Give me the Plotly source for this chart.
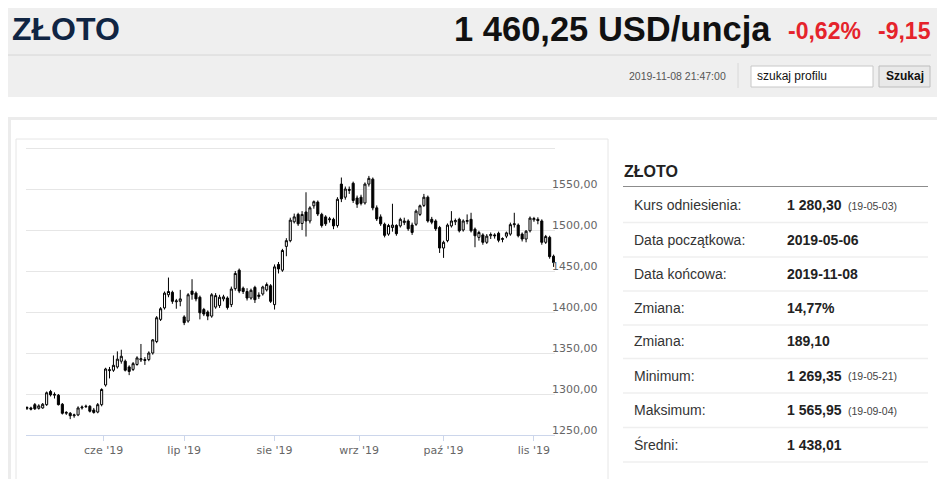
import pandas as pd
import plotly.graph_objects as go

# ---------------- data ----------------
dates = [d.strftime("%Y-%m-%d") for d in pd.bdate_range("2019-05-06", "2019-11-08")]

open_ = [1282.5, 1283, 1287, 1282.5, 1283, 1287, 1303, 1298.5, 1298.5, 1287.5,
         1276.5, 1276.5, 1273.5, 1274.5, 1283, 1284.5, 1285, 1280.5, 1278, 1287,
         1311, 1328.5, 1329, 1333, 1340, 1340, 1333, 1330, 1336, 1341.5,
         1342, 1342, 1350, 1364, 1391, 1405, 1421, 1424, 1412.5, 1413,
         1394, 1389, 1425.5, 1423, 1418, 1403, 1400, 1395, 1406, 1408,
         1416, 1417, 1409, 1428.5, 1451, 1429, 1425, 1417, 1430, 1419,
         1422, 1427, 1432, 1409, 1458, 1451, 1480, 1487, 1510, 1519,
         1508, 1522, 1511, 1529.5, 1534, 1519, 1516, 1512.5, 1513, 1505.5,
         1556, 1540, 1549.5, 1557, 1539, 1540, 1533, 1556, 1562, 1527,
         1516, 1507, 1495, 1503, 1505.5, 1505, 1509, 1511, 1506, 1507,
         1519, 1530, 1540, 1513, 1511, 1503, 1478, 1487, 1505, 1510,
         1513, 1500, 1510.5, 1513, 1501, 1491, 1494, 1485, 1493, 1494,
         1496, 1488.5, 1492.5, 1495, 1506.5, 1506, 1495, 1489, 1499, 1512.5,
         1513, 1511, 1485, 1491, 1468]
high = [1285, 1284.5, 1289, 1287.5, 1289, 1303, 1305, 1302, 1300, 1289,
        1279, 1278, 1276, 1285, 1286, 1287, 1286.5, 1283, 1289, 1307,
        1332, 1333, 1347, 1352, 1354, 1342, 1335, 1339, 1346, 1361,
        1345, 1352, 1367, 1395, 1406, 1425, 1442, 1426, 1416, 1427,
        1396, 1423, 1440, 1425, 1420, 1405, 1402, 1423, 1423, 1421,
        1421, 1419, 1431, 1450, 1453, 1431, 1429, 1428.5, 1432, 1424,
        1432, 1436, 1434, 1458, 1461, 1477, 1490, 1515, 1520, 1521,
        1523, 1546, 1529, 1536, 1536, 1521, 1518, 1516, 1515, 1540,
        1564, 1553, 1553, 1559, 1542, 1543, 1558, 1565.95, 1564, 1530,
        1519, 1509, 1507.5, 1532, 1507, 1515, 1515, 1513, 1509, 1525,
        1531, 1544, 1542, 1516, 1513, 1505, 1487, 1508, 1523, 1514,
        1515, 1513, 1519, 1521, 1503, 1499, 1496, 1495, 1497, 1496,
        1498, 1491, 1498, 1509, 1521, 1508, 1497, 1500, 1516.5, 1516,
        1515.5, 1513, 1494, 1493, 1470]
low = [1280.5, 1280, 1280.5, 1281, 1282, 1285.5, 1297, 1294.5, 1286, 1275,
       1274.5, 1269.35, 1271, 1273, 1281, 1283, 1277.5, 1276, 1276.5, 1285,
       1309, 1319, 1327, 1331, 1337, 1327.5, 1323, 1328, 1334.5, 1339,
       1335.5, 1340, 1348, 1362, 1389, 1403, 1418, 1410, 1404, 1407,
       1384, 1387, 1415, 1413, 1391, 1395, 1390, 1393, 1404, 1405,
       1413, 1403, 1406, 1426, 1423, 1422, 1414, 1415, 1411, 1416,
       1420, 1425, 1411, 1403, 1447, 1449, 1468, 1485, 1508, 1505,
       1500, 1492, 1508, 1526, 1517, 1503, 1505, 1509, 1501, 1503,
       1534, 1537, 1544, 1533, 1527, 1530, 1531, 1553, 1524, 1511,
       1505, 1491, 1493, 1498, 1493, 1503, 1506, 1499, 1494, 1505,
       1517, 1528, 1509, 1507, 1499, 1472, 1466, 1485, 1503, 1506,
       1497, 1498, 1507, 1497, 1479, 1487, 1482, 1483, 1489, 1489.5,
       1485, 1485, 1490, 1493, 1503, 1491, 1486, 1485, 1497, 1510,
       1507, 1482, 1483, 1465, 1455]
close = [1283.5, 1281.5, 1282, 1285.5, 1287.5, 1301.5, 1299, 1299.5, 1287, 1276.5,
         1277.5, 1273.5, 1274.5, 1283, 1284, 1285, 1279, 1277.5, 1287, 1305.5,
         1330.5, 1329.5, 1335, 1342.5, 1346, 1329, 1327.5, 1337, 1344, 1343,
         1341, 1350, 1366, 1393, 1404, 1423, 1425, 1413, 1413.5, 1416,
         1387, 1421, 1421.5, 1416, 1399, 1397.5, 1395, 1421, 1420, 1418,
         1418.5, 1405.5, 1428, 1447, 1425.5, 1425, 1417, 1426.5, 1415, 1420.5,
         1430.5, 1433.5, 1413, 1455, 1452.5, 1475, 1487, 1512, 1516, 1507.5,
         1519, 1511, 1527, 1534.5, 1519.5, 1505.5, 1507.5, 1513.5, 1505, 1537.5,
         1538, 1550, 1548.5, 1536, 1531.5, 1532.5, 1556, 1563, 1527, 1513.5,
         1507.5, 1493.5, 1505.5, 1506, 1495.5, 1513, 1511, 1501.5, 1497, 1523,
         1529.5, 1540, 1511, 1509.5, 1501.5, 1478, 1485, 1506, 1511, 1511.5,
         1499, 1511, 1511.5, 1499, 1493, 1497, 1485, 1492.5, 1494.5, 1493,
         1487.5, 1489.5, 1496.5, 1506.5, 1507.5, 1493, 1489, 1498.5, 1514.5, 1514,
         1511.5, 1485, 1492, 1467.5, 1460.25]

price_ticks = [1250, 1300, 1350, 1400, 1450, 1500, 1550, 1600]
month_starts = ["2019-06-01", "2019-07-01", "2019-08-01", "2019-09-01", "2019-10-01", "2019-11-01"]
month_labels = ["cze '19", "lip '19", "sie '19", "wrz '19", "paź '19", "lis '19"]

header_title = "ZŁOTO"
header_price = "1 460,25 USD/uncja"
header_pct = "-0,62%"
header_chg = "-9,15"
header_time = "2019-11-08 21:47:00"

table_title = "ZŁOTO"
table_labels = ["Kurs odniesienia:", "Data początkowa:", "Data końcowa:", "Zmiana:",
                "Zmiana:", "Minimum:", "Maksimum:", "Średni:"]
table_values = ["1 280,30", "2019-05-06", "2019-11-08", "14,77%",
                "189,10", "1 269,35", "1 565,95", "1 438,01"]
table_notes = ["(19-05-03)", "", "", "", "", "(19-05-21)", "(19-09-04)", ""]

# ---------------- helpers ----------------
# the page body has an 8px margin, so the figure starts at window (8, 8)
OFF = 8
W, H = 937, 471
def px(x):
    return (x - OFF) / W
def py(y):
    return 1 - (y - OFF) / H

# month tick positions on the ordinal (trading day) axis
dt_index = pd.to_datetime(pd.Series(dates))
tickvals = []
for m in month_starts:
    ts = pd.Timestamp(m)
    idx = int((dt_index < ts).sum())
    tickvals.append(idx if dt_index.iloc[idx] == ts else idx - 0.5)

ytext = ["" if v == 1600 else f"{v:.2f}".replace(".", ",") for v in price_ticks]

fig = go.Figure()
fig.add_trace(go.Candlestick(
    x=dates, open=open_, high=high, low=low, close=close,
    increasing=dict(line=dict(color="#000000", width=1), fillcolor="#ffffff"),
    decreasing=dict(line=dict(color="#000000", width=1), fillcolor="#000000"),
    whiskerwidth=0, showlegend=False, hoverinfo="skip",
))

shapes = []
# header band
shapes.append(dict(type="rect", xref="paper", yref="paper", x0=px(8), x1=px(942), y0=py(97), y1=py(8),
                   fillcolor="#efefef", line=dict(width=0), layer="below"))
shapes.append(dict(type="line", xref="paper", yref="paper", x0=px(8), x1=px(931), y0=py(55), y1=py(55),
                   line=dict(color="#d6d6d6", width=1)))
shapes.append(dict(type="line", xref="paper", yref="paper", x0=px(738), x1=px(738), y0=py(63), y1=py(88),
                   line=dict(color="#d8d8d8", width=1)))
shapes.append(dict(type="rect", xref="paper", yref="paper", x0=px(751), x1=px(873), y0=py(87), y1=py(66),
                   fillcolor="#ffffff", line=dict(color="#c8c8c8", width=1)))
shapes.append(dict(type="rect", xref="paper", yref="paper", x0=px(879), x1=px(930), y0=py(87), y1=py(66),
                   fillcolor="#e9e9e9", line=dict(color="#bdbdbd", width=1)))
# content box
shapes.append(dict(type="rect", xref="paper", yref="paper", x0=px(9.5), x1=px(940.5), y0=py(520), y1=py(118.5),
                   fillcolor="rgba(0,0,0,0)", line=dict(color="#ececec", width=3), layer="below"))
# chart panel
shapes.append(dict(type="rect", xref="paper", yref="paper", x0=px(16), x1=px(608), y0=py(520), y1=py(139),
                   fillcolor="rgba(0,0,0,0)", line=dict(color="#e6e6e6", width=1), layer="below"))
# table lines
shapes.append(dict(type="line", xref="paper", yref="paper", x0=px(623), x1=px(928), y0=py(186.5), y1=py(186.5),
                   line=dict(color="#8c8c8c", width=1)))
row_y = [205, 239.5, 273.5, 307.5, 341, 375.5, 410, 444.5]
for ry in row_y:
    sy = ry + 17.5
    shapes.append(dict(type="line", xref="paper", yref="paper", x0=px(623), x1=px(928), y0=py(sy), y1=py(sy),
                       line=dict(color="#efefef", width=1.5)))

ann = []
def text(x, y, s, size, color, bold=False, xanchor="left", family="Liberation Sans"):
    ann.append(dict(xref="paper", yref="paper", x=px(x), y=py(y), text=f"<b>{s}</b>" if bold else s,
                    showarrow=False, xanchor=xanchor, yanchor="middle",
                    font=dict(size=size, color=color, family=family)))

text(10, 29, header_title, 32, "#102543", bold=True)
text(773, 29, header_price, 34.5, "#111111", bold=True, xanchor="right")
text(786, 31, header_pct, 23, "#e5232b", bold=True)
text(876, 31, header_chg, 23, "#e5232b", bold=True)
text(728, 76, header_time, 10.5, "#555555", xanchor="right")
text(755, 76.5, "szukaj profilu", 12, "#111111")
text(904.5, 76.5, "Szukaj", 12, "#111111", bold=True, xanchor="center")

text(622, 171.5, table_title, 16, "#222222", bold=True)
for ry, lab, val, note in zip(row_y, table_labels, table_values, table_notes):
    text(632, ry, lab, 14, "#333333")
    text(785, ry, val, 14, "#222222", bold=True)
    if note:
        text(846, ry + 0.5, note, 10.5, "#444444")

fig.update_layout(
    width=W, height=H,
    margin=dict(l=0, r=0, t=0, b=0),
    paper_bgcolor="#ffffff", plot_bgcolor="#ffffff",
    font=dict(family="Liberation Sans"),
    showlegend=False,
    boxgap=0.25,
    shapes=shapes, annotations=ann,
    xaxis=dict(
        type="category", domain=[px(26), px(555)], range=[-0.25, len(dates) - 1 + 0.36],
        rangeslider=dict(visible=False), showgrid=False,
        showline=True, linecolor="#ccd6eb", linewidth=1,
        ticks="outside", ticklen=5, tickcolor="#ccd6eb", tickwidth=1,
        tickmode="array", tickvals=tickvals, ticktext=month_labels,
        tickfont=dict(family="DejaVu Sans", size=11, color="#666666"),
        automargin=False, fixedrange=True,
    ),
    yaxis=dict(
        domain=[py(435), py(143.9)], range=[1250, 1605], side="right",
        showgrid=True, gridcolor="#e6e6e6", gridwidth=1, zeroline=False,
        showline=False, ticks="",
        tickmode="array", tickvals=price_ticks, ticktext=ytext,
        ticklabelposition="outside top", ticklabelstandoff=-4, ticklabelshift=3,
        tickfont=dict(family="DejaVu Sans", size=11, color="#666666"),
        automargin=False, fixedrange=True,
    ),
)

fig.write_html("out.html")
